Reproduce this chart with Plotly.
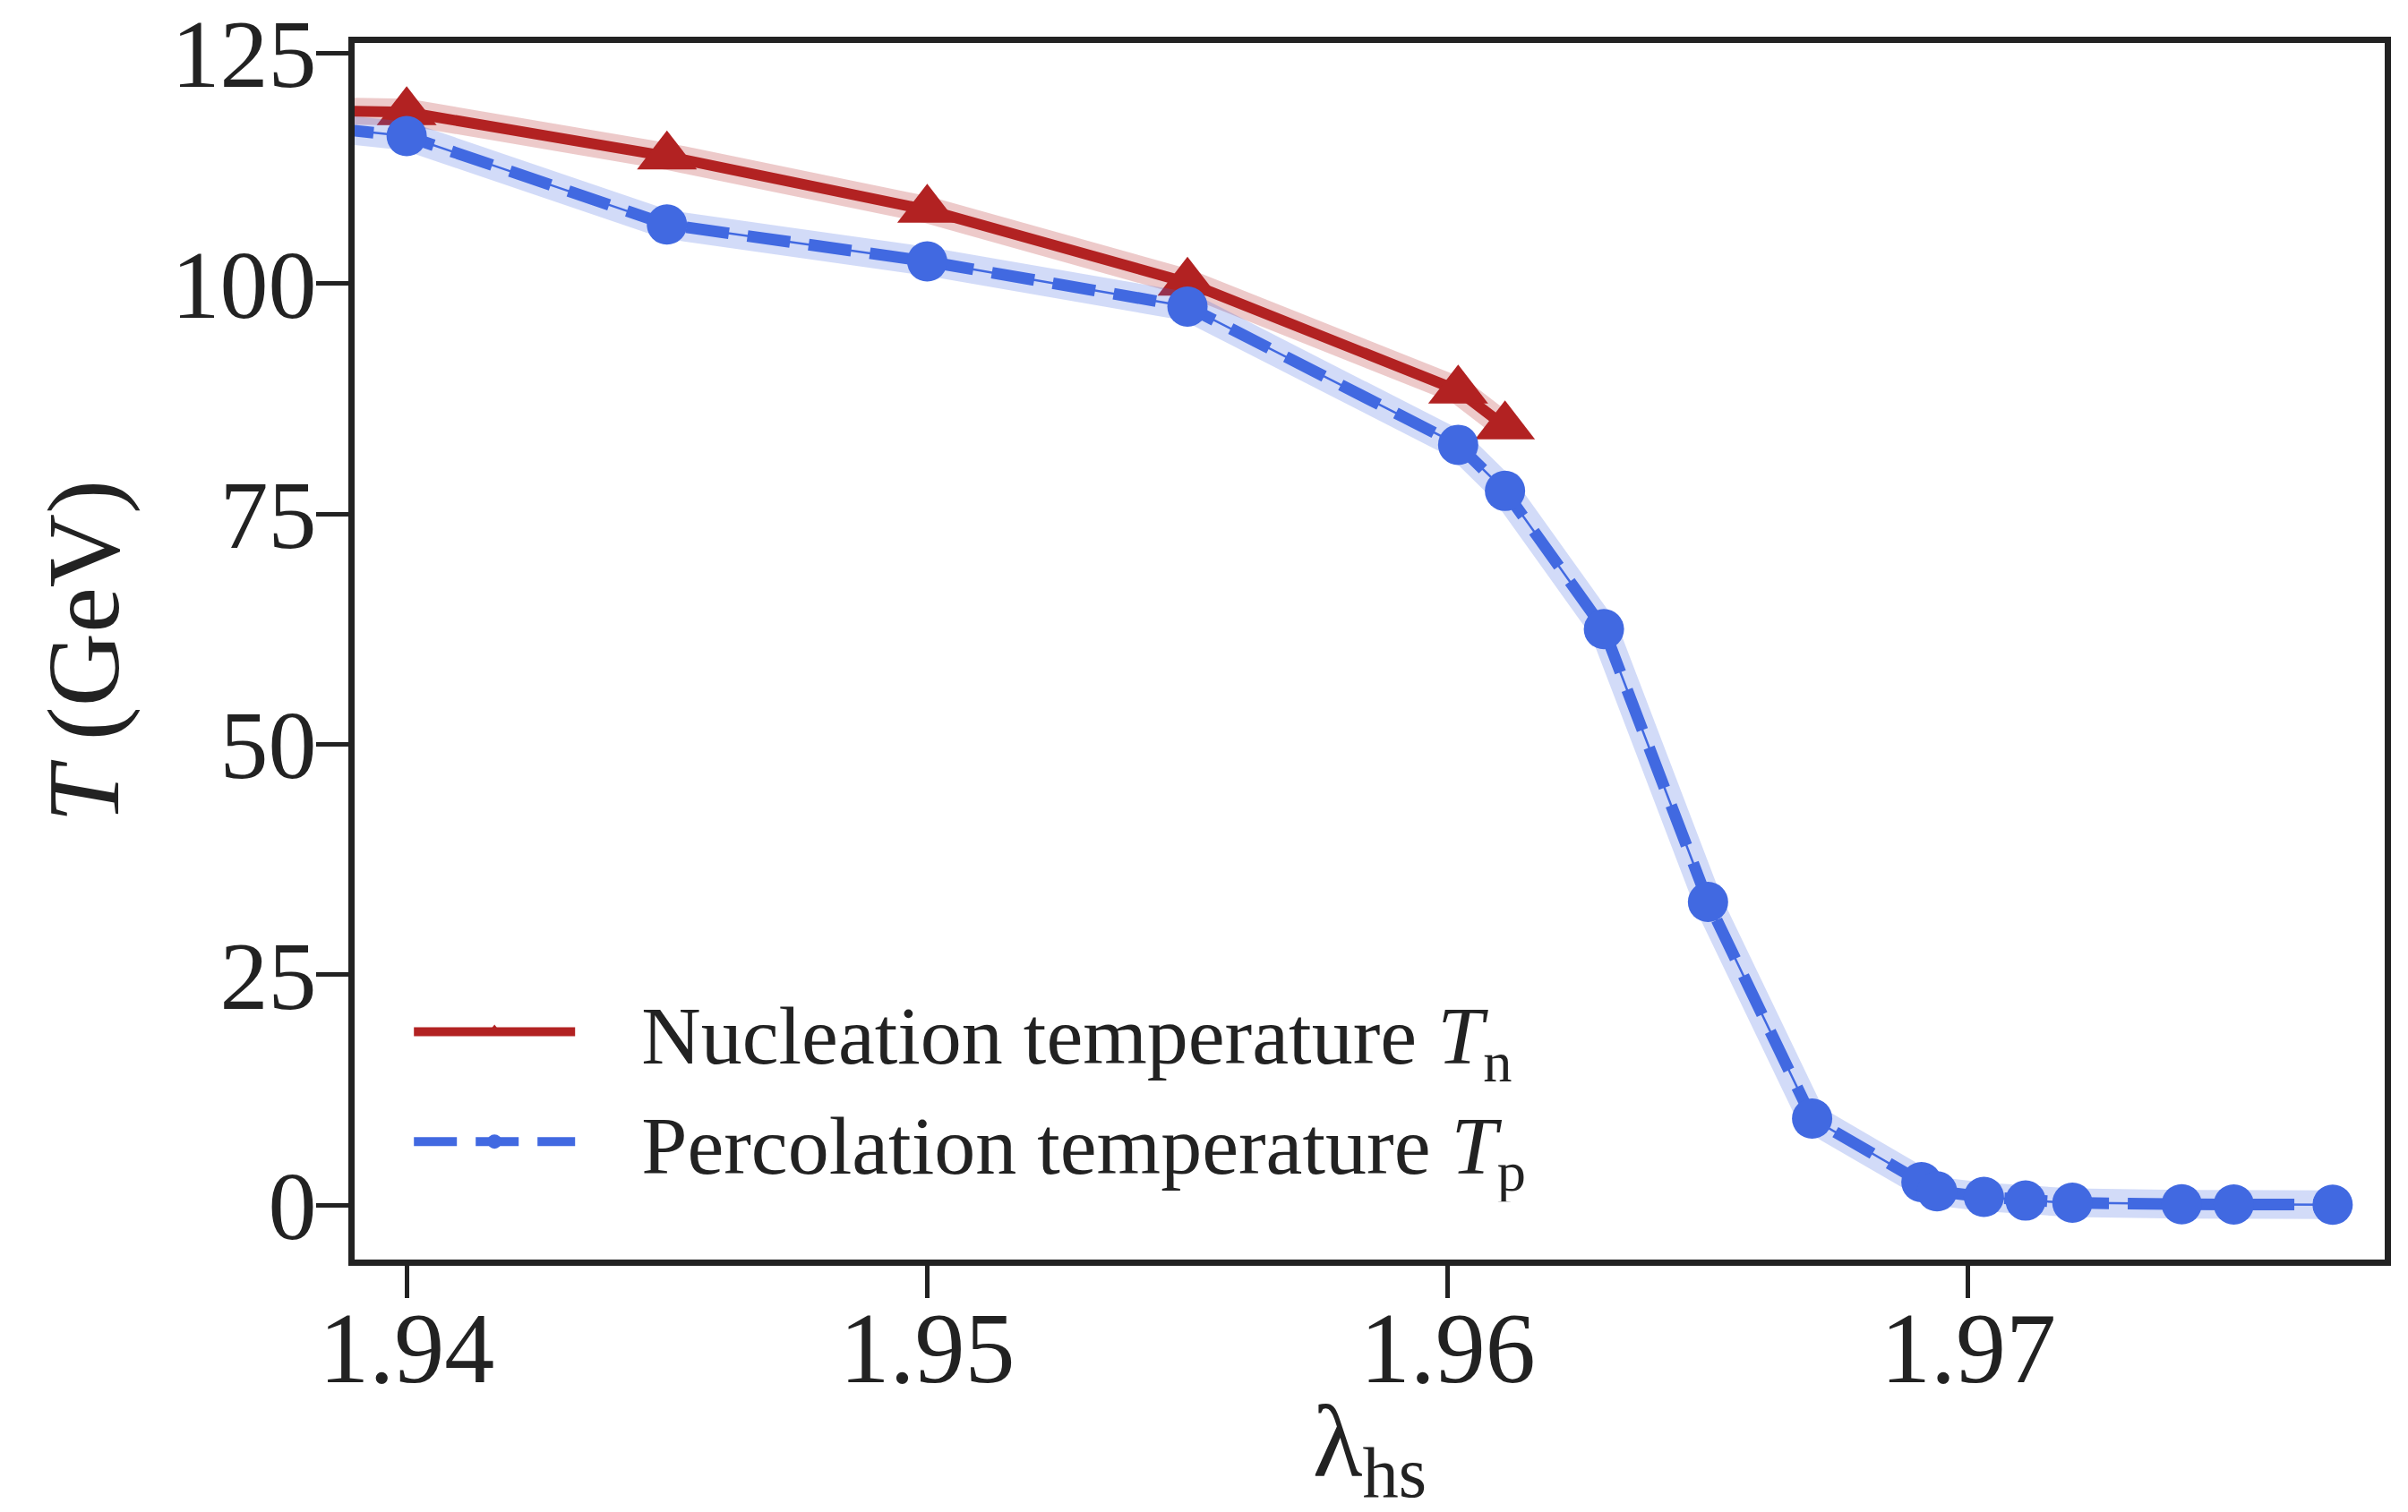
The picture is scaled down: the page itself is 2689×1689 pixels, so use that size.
import plotly.graph_objects as go

# ---- data ----
lam_n = [1.935, 1.940, 1.945, 1.950, 1.955, 1.9602, 1.9611]
T_n = [119.1, 118.6, 113.8, 108.0, 100.1, 88.4, 84.5]

lam_p = [1.935, 1.940, 1.945, 1.950, 1.955, 1.9602, 1.9611, 1.963, 1.965, 1.967,
         1.9691, 1.9694, 1.9703, 1.9711, 1.9720, 1.9741, 1.9751, 1.9770]
T_p = [118.9, 116.0, 106.4, 102.4, 97.5, 82.5, 77.5, 62.5, 32.9, 9.4,
       2.5, 1.5, 0.9, 0.5, 0.26, 0.1, 0.08, 0.05]

x_ticks = [1.94, 1.95, 1.96, 1.97]
x_ticktext = ["1.94", "1.95", "1.96", "1.97"]
y_ticks = [0, 25, 50, 75, 100, 125]
y_ticktext = ["0", "25", "50", "75", "100", "125"]

name_n = "Nucleation temperature <i>T</i><sub>n</sub>"
name_p = "Percolation temperature <i>T</i><sub>p</sub>"

RED = "#B22222"
BLUE = "#4169E1"
INK = "#222222"
FONT = "Liberation Serif"
PAD = "\u00a0\u00a0\u00a0"

fig = go.Figure()

# red band + line
fig.add_trace(go.Scatter(x=lam_n, y=T_n, mode="lines", showlegend=False, hoverinfo="skip",
                         line=dict(color="rgba(178,34,34,0.24)", width=30)))
fig.add_trace(go.Scatter(x=lam_n, y=T_n, mode="lines+markers", name=PAD + name_n,
                         line=dict(color=RED, width=12),
                         marker=dict(symbol="triangle-up", size=58, color=RED, line=dict(width=0))))

# blue band + thin centre line + dashed line
fig.add_trace(go.Scatter(x=lam_p, y=T_p, mode="lines", showlegend=False, hoverinfo="skip",
                         line=dict(color="rgba(65,105,225,0.24)", width=32)))
fig.add_trace(go.Scatter(x=lam_p, y=T_p, mode="lines", showlegend=False, hoverinfo="skip",
                         line=dict(color=BLUE, width=2.5)))
fig.add_trace(go.Scatter(x=lam_p, y=T_p, mode="lines+markers", name=PAD + name_p,
                         line=dict(color=BLUE, width=13, dash="48px,21px"),
                         marker=dict(symbol="circle", size=45, color=BLUE, line=dict(width=0))))

fig.update_layout(
    width=2689, height=1689,
    margin=dict(l=396, r=26, t=48, b=282, autoexpand=False),
    paper_bgcolor="white", plot_bgcolor="white",
    font=dict(family=FONT, color=INK, size=110),
    showlegend=True,
    legend=dict(x=0.027, y=0.236, xanchor="left", yanchor="top",
                bgcolor="rgba(0,0,0,0)", borderwidth=0,
                font=dict(family=FONT, size=92, color=INK),
                itemwidth=180, tracegroupgap=0),
)

fig.update_xaxes(
    range=[1.939, 1.978], tickmode="array", tickvals=x_ticks, ticktext=x_ticktext,
    automargin=False,
    showgrid=False, zeroline=False, showline=True, linecolor=INK, linewidth=7,
    mirror=True, ticks="outside", ticklen=36, tickwidth=5, tickcolor=INK,
    ticklabelstandoff=-40, ticklabeloverflow="allow",
    tickfont=dict(family=FONT, size=112, color=INK),
    title=dict(text="λ<sub>hs</sub>", font=dict(family=FONT, size=115, color=INK), standoff=33),
)
fig.update_yaxes(
    range=[-5.9, 126.1], tickmode="array", tickvals=y_ticks, ticktext=y_ticktext,
    automargin=False,
    showgrid=False, zeroline=False, showline=True, linecolor=INK, linewidth=7,
    mirror=True, ticks="outside", ticklen=36, tickwidth=5, tickcolor=INK,
    ticklabelstandoff=-22, ticklabeloverflow="allow",
    tickfont=dict(family=FONT, size=108, color=INK),
    title=dict(text="<i>T</i> (GeV)", font=dict(family=FONT, size=114, color=INK), standoff=23),
)

fig.write_html("out.html")
